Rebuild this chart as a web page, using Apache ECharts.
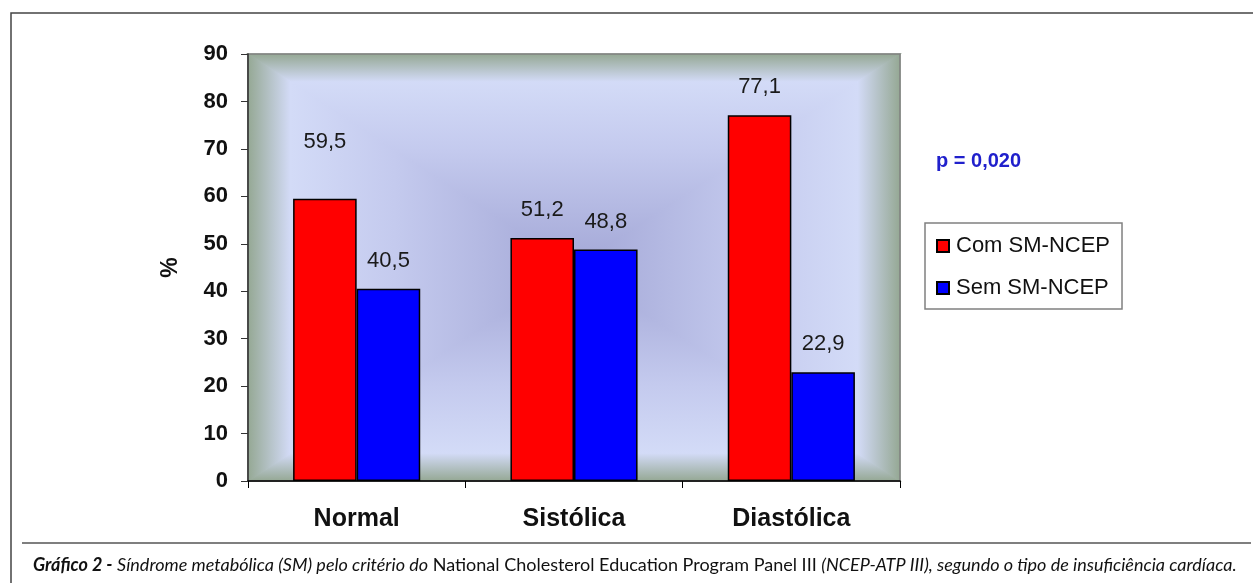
<!DOCTYPE html>
<html>
<head>
<meta charset="utf-8">
<script src="https://cdn.jsdelivr.net/npm/echarts@6/dist/echarts.min.js"></script>
<style>
  html, body { margin: 0; padding: 0; background: #fff; }
  #chart { width: 1253px; height: 583px; }
</style>
</head>
<body>
<div id="chart"></div>
<script>
// Tipo de insuficiência cardíaca
const categories = ['Normal', 'Sistólica', 'Diastólica'];
// Percentual com e sem síndrome metabólica (NCEP)
const comSM = [59.5, 51.2, 77.1];
const semSM = [40.5, 48.8, 22.9];
const seriesNames = ['Com SM-NCEP', 'Sem SM-NCEP'];
const yTicks = { min: 0, max: 90, interval: 10 };
const pValueText = 'p = 0,020';

// plot area in pixels
const G = { left: 248, top: 54, right: 900, bottom: 481 };
const W = 1253, H = 583;
const SANS = '"Liberation Sans", Arial, sans-serif';

const chart = echarts.init(document.getElementById('chart'), null, { renderer: 'canvas' });

// rectangular "from centre" fill: four triangles, each with a gradient edge -> centre
const cx = (G.left + G.right) / 2, cy = (G.top + G.bottom) / 2;
const stops = [
  { offset: 0, color: '#95a894' },
  { offset: 0.13, color: '#d3dbf7' },
  { offset: 0.45, color: '#c4caee' },
  { offset: 1, color: '#a3a7d6' }
];
function tri(points, x1, y1, x2, y2) {
  const grad = new echarts.graphic.LinearGradient(x1, y1, x2, y2, stops, true);
  return {
    type: 'polygon', z: -10, silent: true,
    shape: { points },
    style: { fill: grad, stroke: grad, lineWidth: 1.2 }
  };
}
const bg = [
  tri([[G.left, G.top], [G.right, G.top], [cx, cy]], 0, G.top, 0, cy),
  tri([[G.left, G.bottom], [G.right, G.bottom], [cx, cy]], 0, G.bottom, 0, cy),
  tri([[G.left, G.top], [G.left, G.bottom], [cx, cy]], G.left, 0, cx, 0),
  tri([[G.right, G.top], [G.right, G.bottom], [cx, cy]], G.right, 0, cx, 0)
];

const fmt = v => String(v).replace('.', ',');

function barData(values, s) {
  return values.map((v, i) => ({
    value: v,
    label: { distance: (s === 0 && i === 0) ? 46 : 17 }
  }));
}

const labelStyle = {
  show: true, position: 'top',
  formatter: p => fmt(p.value),
  fontFamily: SANS, fontSize: 22, color: '#1a1a1a'
};

chart.setOption({
  animation: false,
  grid: {
    left: G.left, top: G.top, right: W - G.right, bottom: H - G.bottom,
    show: true, backgroundColor: 'transparent', borderColor: '#808080', borderWidth: 1.5
  },
  legend: {
    orient: 'vertical', left: 925, top: 223,
    padding: [12, 12, 10, 11],
    itemGap: 20, itemWidth: 12, itemHeight: 12,
    icon: 'rect',
    borderColor: '#808080', borderWidth: 1.5,
    backgroundColor: '#fff',
    textStyle: { fontFamily: SANS, fontSize: 22, color: '#111', padding: [0, 0, 0, 2] },
    data: seriesNames
  },
  xAxis: {
    type: 'category', data: categories,
    axisLine: { lineStyle: { color: '#000', width: 1.5 } },
    axisTick: { show: true, length: 7, lineStyle: { color: '#000' } },
    axisLabel: {
      margin: 26, color: '#111',
      fontFamily: SANS, fontWeight: 'bold', fontSize: 25
    }
  },
  yAxis: {
    type: 'value', min: yTicks.min, max: yTicks.max, interval: yTicks.interval,
    name: '%', nameLocation: 'middle', nameGap: 66, nameRotate: 90,
    nameTextStyle: { fontFamily: SANS, fontWeight: 'bold', fontSize: 23, color: '#111' },
    axisLine: { show: true, lineStyle: { color: '#333', width: 1.5 } },
    axisTick: { show: true, length: 7, lineStyle: { color: '#333' } },
    splitLine: { show: false },
    axisLabel: {
      margin: 20, color: '#111',
      fontFamily: SANS, fontWeight: 'bold', fontSize: 22
    }
  },
  series: [
    {
      name: seriesNames[0], type: 'bar', data: barData(comSM, 0),
      barGap: '0%', barCategoryGap: '41.5%',
      itemStyle: { color: '#ff0000', borderColor: '#000', borderWidth: 1.5 },
      label: labelStyle
    },
    {
      name: seriesNames[1], type: 'bar', data: barData(semSM, 1),
      itemStyle: { color: '#0000ff', borderColor: '#000', borderWidth: 1.5 },
      label: labelStyle
    }
  ],
  graphic: bg.concat([
    {
      type: 'text', left: 936, top: 151,
      style: { text: pValueText, fill: '#2020cc', font: 'bold 20px ' + SANS }
    },
    // outer frame
    { type: 'polyline', shape: { points: [[11, H], [11, 13], [W, 13]] }, style: { stroke: '#444', lineWidth: 1.5, fill: null } },
    // rule above the caption
    { type: 'line', shape: { x1: 22, y1: 543, x2: W - 2, y2: 543 }, style: { stroke: '#555', lineWidth: 1.5 } },
    {
      type: 'text', left: 33, top: 556,
      style: {
        text: '{b|Gráfico 2 -} {i|Síndrome metabólica (SM) pelo critério do} {r|National Cholesterol Education Program Panel III} {i|(NCEP-ATP III), segundo o tipo de insuficiência cardíaca.}',
        rich: {
          b: { font: 'italic bold 18px Lato, "Open Sans", sans-serif', fill: '#111' },
          i: { font: 'italic 18px Lato, "Open Sans", sans-serif', fill: '#111' },
          r: { font: '18px Lato, "Open Sans", sans-serif', fill: '#111' }
        },
        font: '18px Lato, sans-serif'
      }
    }
  ])
});
</script>
</body>
</html>
